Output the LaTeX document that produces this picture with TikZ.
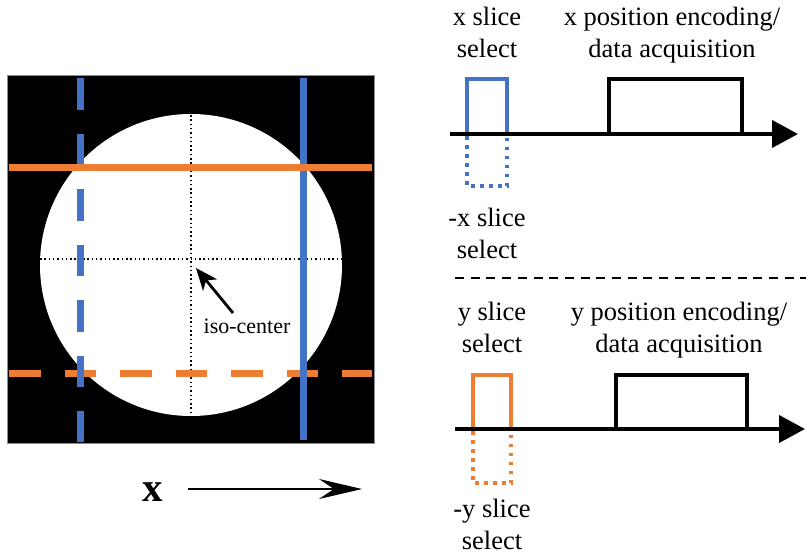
\documentclass[tikz,border=0pt]{standalone}
\usepackage{fontspec}
\setmainfont{Liberation Serif}
\usetikzlibrary{arrows.meta}
\definecolor{cBlue}{HTML}{4472C4}
\definecolor{cOrange}{HTML}{ED7D31}

\begin{document}
\begin{tikzpicture}[x=1pt,y=-1pt,
      lbl/.style={align=center,anchor=north,inner sep=0pt,font=\fontsize{26.5}{32}\selectfont},
      slab/.style={line width=7pt},
      slabdash/.style={slab,dash pattern=on 31.7pt off 23.8pt},
      pulse/.style={line width=3.4pt},
      negpulse/.style={line width=3.5pt,dash pattern=on 3.5pt off 5.5pt},
      guide/.style={line width=1.5pt,dash pattern=on 1.5pt off 2.8pt},
      taxis/.style={line width=4pt,-{Triangle[length=26pt,width=27pt]}}]
    \useasboundingbox (0,0) rectangle (806,554);

    % phantom image
    \fill[black] (7,75) rectangle (374,443);
    \draw[black!45,line width=0.6pt] (7,75) rectangle (374,443);
    \fill[white] (191,265) circle[radius=151pt];
    \draw[guide] (191,115) -- (191,415);
    \draw[guide] (40,259) -- (342,259);

    \draw[slabdash,cOrange] (9,373) -- (372,373);
    \draw[slabdash,cBlue] (80,78) -- (80,442);
    \draw[slab,cBlue] (303,78) -- (303,440);
    \draw[slab,cOrange] (9,167) -- (372,167);

    \coordinate (isoc) at (196,268);
    \coordinate (isotail) at (233,313);
    \node[font=\fontsize{22}{26}\selectfont,anchor=base,inner sep=0pt] (iso) at (247,333) {iso-center};
    \draw[line width=2.8pt,-{Stealth[length=22pt,width=18pt,inset=6pt]}] (isotail) -- (isoc);

    \node[font=\fontsize{41}{48}\selectfont\bfseries,anchor=base,inner sep=0pt] (xlab) at (153,501) {x};
    \coordinate (xdir0) at (188,489);
    \coordinate (xdir1) at (362,489);
    \draw[line width=2.5pt,-{Stealth[length=43pt,width=20pt,inset=15pt]}] (xdir0) -- (xdir1);

    % x sequence
    \node[lbl] (xslice) at (487,7) {x slice\\select};
    \node[lbl] (xpos) at (672,7) {x position encoding/\\data acquisition};
    \node[lbl] (mxslice) at (487,208) {-x slice\\select};
    \coordinate (xa0) at (450,134);
    \coordinate (xa1) at (798,134);
    \draw[pulse,cBlue] (467,134) -- (467,79) -- (507,79) -- (507,134);
    \draw[negpulse,cBlue] (467,136) -- (467,186) -- (507,186) -- (507,136);
    \draw[line width=4pt] (609,134) -- (609,79) -- (742,79) -- (742,134);
    \draw[taxis] (xa0) -- (xa1);

    \coordinate (sep0) at (455,278);
    \coordinate (sep1) at (806,278);
    \draw[line width=2pt,dash pattern=on 9pt off 6.7pt] (sep0) -- (sep1);

    % y sequence
    \node[lbl] (yslice) at (492,302) {y slice\\select};
    \node[lbl] (ypos) at (679,302) {y position encoding/\\data acquisition};
    \node[lbl] (myslice) at (492,499) {-y slice\\select};
    \coordinate (ya0) at (455,429);
    \coordinate (ya1) at (805,429);
    \draw[pulse,cOrange] (473,429) -- (473,375) -- (511,375) -- (511,429);
    \draw[negpulse,cOrange] (473,431) -- (473,483) -- (511,483) -- (511,431);
    \draw[line width=4pt] (616,429) -- (616,375) -- (747,375) -- (747,429);
    \draw[taxis] (ya0) -- (ya1);
  \end{tikzpicture}
\end{document}
